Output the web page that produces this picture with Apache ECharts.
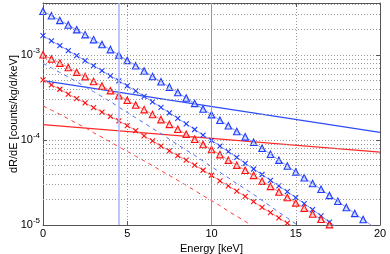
<!DOCTYPE html>
<html><head><meta charset="utf-8">
<script src="https://cdn.jsdelivr.net/npm/echarts@6/dist/echarts.min.js"></script>
<style>html,body{margin:0;padding:0;background:#fff}#c{width:390px;height:254px}</style>
</head><body><div id="c"></div>
<script>
// ---- data ----
const energies = [0,0.5,1,1.5,2,2.5,3,3.5,4,4.5,5,5.5,6,6.5,7,7.5,8,8.5,9,9.5,10,10.5,11,11.5,12,12.5,13,13.5,14,14.5,15,15.5,16,16.5,17,17.5,18,18.5,19,19.5];
const blueTriangles = [3.28e-3,2.90e-3,2.56e-3,2.26e-3,1.99e-3,1.74e-3,1.52e-3,1.33e-3,1.16e-3,1.00e-3,8.65e-4,7.5e-4,6.5e-4,5.6e-4,4.86e-4,4.2e-4,3.62e-4,3.12e-4,2.70e-4,2.32e-4,1.99e-4,1.71e-4,1.47e-4,1.26e-4,1.09e-4,9.4e-5,8.0e-5,6.8e-5,5.8e-5,4.95e-5,4.22e-5,3.6e-5,3.08e-5,2.63e-5,2.23e-5,1.90e-5,1.61e-5,1.37e-5,1.16e-5,9.9e-6];
const blueCrosses = [1.69e-3,1.47e-3,1.29e-3,1.13e-3,9.85e-4,8.6e-4,7.5e-4,6.55e-4,5.7e-4,4.97e-4,4.33e-4,3.78e-4,3.26e-4,2.82e-4,2.42e-4,2.09e-4,1.8e-4,1.55e-4,1.33e-4,1.14e-4,9.9e-5,8.5e-5,7.3e-5,6.25e-5,5.32e-5,4.56e-5,3.93e-5,3.36e-5,2.88e-5,2.47e-5,2.1e-5,1.79e-5,1.52e-5,1.28e-5,1.08e-5,9.2e-6];
const blueDashed = [8.0e-4,7.07e-4,6.24e-4,5.51e-4,4.85e-4,4.24e-4,3.71e-4,3.24e-4,2.83e-4,2.44e-4,2.11e-4,1.83e-4,1.59e-4,1.37e-4,1.19e-4,1.02e-4,8.8e-5,7.6e-5,6.6e-5,5.66e-5,4.85e-5,4.17e-5,3.59e-5,3.07e-5,2.66e-5,2.29e-5,1.95e-5,1.66e-5,1.41e-5,1.21e-5,1.03e-5,8.8e-6];
const redTriangles = [1.01e-3,8.98e-4,8.04e-4,7.13e-4,6.29e-4,5.58e-4,4.88e-4,4.33e-4,3.81e-4,3.32e-4,2.94e-4,2.58e-4,2.28e-4,2.0e-4,1.74e-4,1.53e-4,1.34e-4,1.17e-4,1.02e-4,8.85e-5,7.75e-5,6.74e-5,5.8e-5,5.06e-5,4.41e-5,3.84e-5,3.28e-5,2.85e-5,2.45e-5,2.11e-5,1.82e-5,1.58e-5,1.35e-5,1.17e-5,1.01e-5,8.7e-6];
const redCrosses = [5.11e-4,4.46e-4,3.96e-4,3.48e-4,3.08e-4,2.73e-4,2.41e-4,2.13e-4,1.90e-4,1.68e-4,1.48e-4,1.29e-4,1.12e-4,9.8e-5,8.5e-5,7.47e-5,6.56e-5,5.8e-5,5.06e-5,4.41e-5,3.85e-5,3.30e-5,2.88e-5,2.51e-5,2.17e-5,1.88e-5,1.61e-5,1.40e-5,1.21e-5,1.05e-5,9.1e-6];
const redDashed = [2.52e-4,2.25e-4,2.01e-4,1.78e-4,1.57e-4,1.40e-4,1.22e-4,1.08e-4,9.5e-5,8.3e-5,7.35e-5,6.45e-5,5.7e-5,5.0e-5,4.35e-5,3.83e-5,3.35e-5,2.93e-5,2.55e-5,2.21e-5,1.94e-5,1.69e-5,1.45e-5,1.27e-5,1.10e-5,9.6e-6];
const bgEnergies = [0, 20];
const blueBackground = [5.0e-4, 1.23e-4];
const redBackground = [1.52e-4, 7.2e-5];
const thresholds = {blue: 4.5, red: 10};
const yMinorGrid = [2e-5,3e-5,4e-5,5e-5,6e-5,7e-5,8e-5,9e-5,2e-4,3e-4,4e-4,5e-4,6e-4,7e-4,8e-4,9e-4,2e-3,3e-3,4e-3];

const pairs = (xs, ys) => ys.map((v, i) => [xs[i], v]);

const BLUE = '#1f3cff', BLUE_L = '#8a9cff', RED = '#ff1010', RED_L = '#ff8a8a';
const crossPath = 'path://M0,0L10,10M10,0L0,10';
const font = 'Liberation Sans, Arial, Helvetica, sans-serif';

const chart = echarts.init(document.getElementById('c'), null, {renderer: 'canvas'});
const yLabel = v => {
  const e = Math.round(Math.log10(v));
  if (Math.abs(v / Math.pow(10, e) - 1) < 1e-6) return '10{s|' + (e < 0 ? '-' : '') + Math.abs(e) + '}';
  return '';
};
const dotted = () => ({color: '#9a9a9a', width: 1, type: [1, 2]});

chart.setOption({
  animation: false,
  grid: {left: 43, right: 10, top: 3, bottom: 29, containLabel: false, outerBoundsMode: 'none'},
  xAxis: [{
    type: 'value', min: 0, max: 20, interval: 5,
    name: 'Energy [keV]', nameLocation: 'middle', nameGap: 18, nameMoveOverlap: false,
    nameTextStyle: {fontFamily: font, fontSize: 11, color: '#000'},
    axisLine: {show: true, onZero: false, lineStyle: {color: '#555'}},
    axisTick: {show: true, inside: true, length: 4, lineStyle: {color: '#555'}},
    axisLabel: {fontFamily: font, fontSize: 11, color: '#000', margin: 3},
    splitLine: {show: true, lineStyle: dotted()}
  }, {
    type: 'value', min: 0, max: 20, interval: 5, position: 'top',
    axisLine: {show: true, onZero: false, lineStyle: {color: '#555'}},
    axisTick: {show: true, inside: true, length: 4, lineStyle: {color: '#555'}},
    axisLabel: {show: false}, splitLine: {show: false}
  }],
  yAxis: [{
    type: 'log', logBase: 10, min: 1e-5, max: 4.1e-3,
    name: 'dR/dE [counts/kg/d/keV]', nameLocation: 'middle', nameGap: 24, nameMoveOverlap: false,
    nameTextStyle: {fontFamily: font, fontSize: 11, color: '#000'},
    axisLine: {show: true, onZero: false, lineStyle: {color: '#555'}},
    axisTick: {show: true, inside: true, length: 4, lineStyle: {color: '#555'}},
    axisLabel: {fontFamily: font, fontSize: 11, color: '#000', margin: 3, formatter: yLabel,
      rich: {s: {fontFamily: font, fontSize: 8, color: '#000', verticalAlign: 'top', padding: [0, 0, 8, 0]}}},
    splitLine: {show: true, lineStyle: dotted()}
  }, {
    type: 'log', logBase: 10, min: 1e-5, max: 4.1e-3, position: 'right',
    axisLine: {show: true, onZero: false, lineStyle: {color: '#555'}},
    axisTick: {show: true, inside: true, length: 4, lineStyle: {color: '#555'}},
    axisLabel: {show: false}, splitLine: {show: false}
  }],
  series: [
    {type: 'line', name: 'guides', z: 1, data: pairs(bgEnergies, redBackground), showSymbol: false, silent: true,
      lineStyle: {opacity: 0},
      markLine: {silent: true, symbol: 'none', label: {show: false}, animation: false, precision: 10,
        data: yMinorGrid.map(v => ({yAxis: v, lineStyle: dotted()})).concat([
          {xAxis: thresholds.blue, lineStyle: {color: '#a6b4ff', width: 1.5, type: 'solid'}},
          {xAxis: thresholds.red, lineStyle: {color: '#f47070', width: 1, type: 'solid'}}])}},
    {type: 'line', data: pairs(bgEnergies, blueBackground), showSymbol: false, lineStyle: {color: '#2f4df5', width: 1.2}},
    {type: 'line', data: pairs(bgEnergies, redBackground), showSymbol: false, lineStyle: {color: '#ff2a2a', width: 1.2}},
    {type: 'line', data: pairs(energies, blueDashed), showSymbol: false, lineStyle: {color: '#4f6bff', width: 1, type: [4, 4]}},
    {type: 'line', data: pairs(energies, redDashed), showSymbol: false, lineStyle: {color: '#ff3a3a', width: 1, type: [4, 4]}},
    {type: 'line', data: pairs(energies, blueCrosses), symbol: crossPath, symbolSize: 5,
      itemStyle: {color: 'none', borderColor: BLUE, borderWidth: 1.1}, lineStyle: {color: BLUE_L, width: 1}},
    {type: 'line', data: pairs(energies, redCrosses), symbol: crossPath, symbolSize: 5,
      itemStyle: {color: 'none', borderColor: RED, borderWidth: 1.1}, lineStyle: {color: RED_L, width: 1}},
    {type: 'line', data: pairs(energies, blueTriangles), symbol: 'triangle', symbolSize: 6.5,
      itemStyle: {color: 'rgba(180,195,255,0.5)', borderColor: BLUE, borderWidth: 1.1}, lineStyle: {color: BLUE_L, width: 1}},
    {type: 'line', data: pairs(energies, redTriangles), symbol: 'triangle', symbolSize: 6.5,
      itemStyle: {color: 'rgba(255,190,190,0.5)', borderColor: RED, borderWidth: 1.1}, lineStyle: {color: RED_L, width: 1}}
  ]
});
</script></body></html>
